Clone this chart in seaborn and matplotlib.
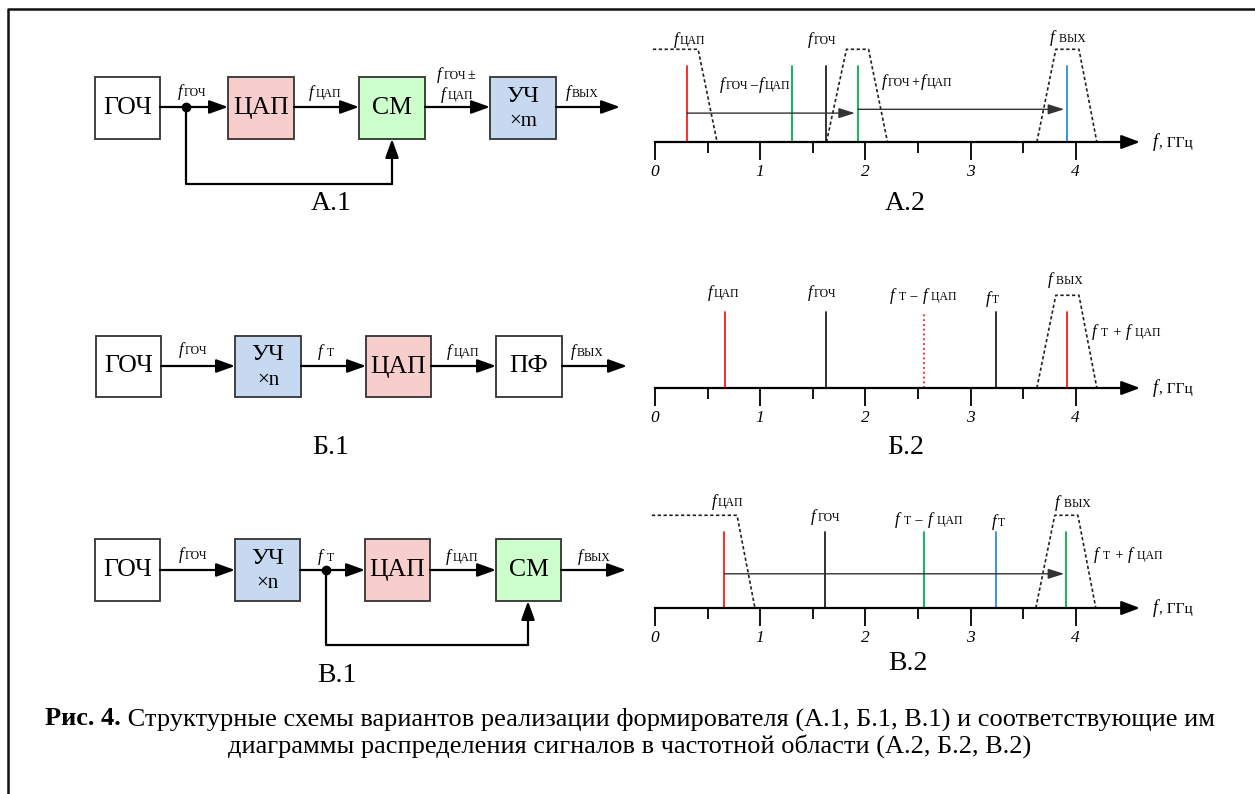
import matplotlib
matplotlib.use("Agg")
import matplotlib.pyplot as plt
import seaborn as sns
from matplotlib.patches import Rectangle, FancyArrowPatch
from matplotlib.offsetbox import TextArea, HPacker, AnnotationBbox

sns.set_style("white")
SERIF = ["Liberation Serif", "DejaVu Serif"]
plt.rcParams["font.family"] = SERIF
plt.rcParams["text.color"] = "black"
plt.rcParams["xtick.color"] = "black"
plt.rcParams["xtick.labelcolor"] = "black"

# ---- spectrum data (GHz) ----
ticks_major = [0, 1, 2, 3, 4]
ticks_minor = [0.5, 1.5, 2.5, 3.5]

a2_lines = [0.30, 1.30, 1.63, 1.93, 3.92]
a2_colors = ["#ff1a1a", "#00b050", "#222222", "#00b050", "#2e8bd8"]
a2_lpf = [-0.02, 0.41, 0.59]
a2_bpf1 = [1.63, 1.82, 2.03, 2.21]
a2_bpf2 = [3.63, 3.81, 4.03, 4.20]
a2_shifts = [(0.30, 1.90, 0.38), (1.93, 3.89, 0.43)]

b2_lines = [0.67, 1.63, 2.56, 3.24, 3.92]
b2_colors = ["#ff1a1a", "#222222", "#ff1a1a", "#222222", "#ff1a1a"]
b2_styles = ["-", "-", ":", "-", "-"]
b2_bpf = [3.63, 3.81, 4.03, 4.20]

v2_lines = [0.66, 1.62, 2.56, 3.24, 3.91]
v2_colors = ["#ff1a1a", "#222222", "#00b050", "#2e8bd8", "#00b050"]
v2_lpf = [-0.03, 0.78, 0.95]
v2_bpf = [3.62, 3.80, 4.02, 4.19]
v2_shifts = [(0.66, 3.89, 0.45)]

FILTER_H = 1.22

W, H = 1255, 794
F0, PPG, UNIT = 655, 105.2, 76   # pixel of 0 GHz, px per GHz, px per amplitude unit

fig = plt.figure(figsize=(W / 100, H / 100), dpi=100)
ax = fig.add_axes([0, 0, 1, 1])
ax.set_xlim(0, W)
ax.set_ylim(H, 0)
ax.axis("off")

# frame
ax.plot([8, 8, W], [H, 9, 9], color="#111111", lw=1.8)


def flabel(a, x, y, parts, fs=12, sub=8.5, ha=0.5):
    kids = []
    for p in parts:
        if p.startswith("f"):
            kids.append(TextArea("f", textprops=dict(size=fs, style="italic", family=SERIF, color="black")))
            if p[1:]:
                kids.append(TextArea(p[1:], textprops=dict(size=sub, family=SERIF, color="black")))
        else:
            kids.append(TextArea(p, textprops=dict(size=sub + 1.5, family=SERIF, color="black")))
    box = HPacker(children=kids, align="baseline", pad=0, sep=1)
    a.add_artist(AnnotationBbox(box, (x, y), frameon=False, box_alignment=(ha, 0.5),
                                pad=0, annotation_clip=False))


def arrow(p0, p1, ms=15, lw=1.6):
    ax.add_patch(FancyArrowPatch(p0, p1, arrowstyle="-|>,head_length=0.75,head_width=0.27",
                                 mutation_scale=ms, lw=lw, color="black",
                                 shrinkA=0, shrinkB=0, zorder=4))


def block(x0, x1, y0, y1, color, text, sub=None):
    ax.add_patch(Rectangle((x0, y0), x1 - x0, y1 - y0, fc=color, ec="#333333", lw=1.3, zorder=3))
    cx, cy = (x0 + x1) / 2, (y0 + y1) / 2
    if sub is None:
        ax.text(cx, cy, text, ha="center", va="center", size=18.5, zorder=5)
    else:
        ax.text(cx, cy - 12, text, ha="center", va="center", size=17.5, zorder=5)
        ax.text(cx, cy + 14, sub, ha="center", va="center", size=15, zorder=5)


WHITE, PINK, GREEN, BLUE = "white", "#f8cecc", "#ccffcc", "#c6d9f0"
PANEL = 20

# ---- A.1 ----
y0, y1, yl = 77, 139, 107
block(95, 160, y0, y1, WHITE, "ГОЧ")
block(228, 294, y0, y1, PINK, "ЦАП")
block(359, 425, y0, y1, GREEN, "СМ")
block(490, 556, y0, y1, BLUE, "УЧ", "×m")
arrow((160, yl), (228, yl))
arrow((294, yl), (359, yl))
arrow((425, yl), (490, yl))
arrow((556, yl), (620, yl))
ax.plot([186, 186, 392], [yl, 184, 184], color="black", lw=1.6)
arrow((392, 184), (392, y1))
ax.plot(186, yl, "o", ms=6, color="black", zorder=5)
flabel(ax, 192, 92, ["fГОЧ"])
flabel(ax, 325, 93, ["fЦАП"])
flabel(ax, 456, 75, ["fГОЧ", "±"])
flabel(ax, 457, 95, ["fЦАП"])
flabel(ax, 582, 93, ["fВЫХ"])
ax.text(331, 204, "А.1", ha="center", va="center", size=PANEL)

# ---- Б.1 ----
y0, y1, yl = 336, 397, 366
block(96, 161, y0, y1, WHITE, "ГОЧ")
block(235, 301, y0, y1, BLUE, "УЧ", "×n")
block(366, 431, y0, y1, PINK, "ЦАП")
block(496, 562, y0, y1, WHITE, "ПФ")
arrow((161, yl), (235, yl))
arrow((301, yl), (366, yl))
arrow((431, yl), (496, yl))
arrow((562, yl), (627, yl))
flabel(ax, 193, 350, ["fГОЧ"])
flabel(ax, 326, 352, ["f Т"])
flabel(ax, 463, 352, ["fЦАП"])
flabel(ax, 587, 352, ["fВЫХ"])
ax.text(331, 447, "Б.1", ha="center", va="center", size=PANEL)

# ---- В.1 ----
y0, y1, yl = 539, 601, 570
block(95, 160, y0, y1, WHITE, "ГОЧ")
block(235, 300, y0, y1, BLUE, "УЧ", "×n")
block(365, 430, y0, y1, PINK, "ЦАП")
block(496, 561, y0, y1, GREEN, "СМ")
arrow((160, yl), (235, yl))
arrow((300, yl), (365, yl))
arrow((430, yl), (496, yl))
arrow((561, yl), (626, yl))
ax.plot([326, 326, 528], [yl, 645, 645], color="black", lw=1.6)
arrow((528, 645), (528, y1))
ax.plot(326, yl, "o", ms=6, color="black", zorder=5)
flabel(ax, 193, 555, ["fГОЧ"])
flabel(ax, 326, 557, ["f Т"])
flabel(ax, 462, 557, ["fЦАП"])
flabel(ax, 594, 557, ["fВЫХ"])
ax.text(337, 676, "В.1", ha="center", va="center", size=PANEL)


# ---- spectra ----
def spectrum(base):
    top_px, bot_px = base - 117, base + 53
    x0_px, x1_px = 630, 1215
    a = fig.add_axes([x0_px / W, 1 - bot_px / H, (x1_px - x0_px) / W, (bot_px - top_px) / H])
    a.set_xlim((x0_px - F0) / PPG, (x1_px - F0) / PPG)
    a.set_ylim(-(bot_px - base) / UNIT, (base - top_px) / UNIT)
    a.patch.set_alpha(0)
    for s in ["top", "right", "left"]:
        a.spines[s].set_visible(False)
    a.spines["bottom"].set_position(("data", 0))
    a.spines["bottom"].set_bounds(0, 4.5)
    a.spines["bottom"].set_linewidth(1.6)
    a.spines["bottom"].set_color("black")
    a.set_yticks([])
    a.set_xticks(ticks_major)
    a.set_xticks(ticks_minor, minor=True)
    a.set_xticklabels([str(t) for t in ticks_major], style="italic", size=12.5)
    a.tick_params(axis="x", which="major", direction="out", length=13, width=1.3,
                  pad=3, bottom=True, color="black")
    a.tick_params(axis="x", which="minor", direction="out", length=8, width=1.3,
                  bottom=True, color="black")
    a.annotate("", xy=(4.61, 0), xytext=(4.45, 0),
               arrowprops=dict(arrowstyle="-|>,head_length=0.8,head_width=0.3",
                               mutation_scale=14, lw=1.6, color="black", shrinkA=0, shrinkB=0))
    flabel(a, 4.73, 0, ["f", ", ГГц"], fs=13, sub=9.5, ha=0)
    return a


def spectral_lines(a, freqs, colors, styles=None, lw=1.3):
    styles = styles or ["-"] * len(freqs)
    for f, c, s in zip(freqs, colors, styles):
        a.plot([f, f], [0, 1], color=c, ls=s, lw=lw)


def filt(a, fs):
    ys = [FILTER_H, FILTER_H, 0] if len(fs) == 3 else [0, FILTER_H, FILTER_H, 0]
    a.plot(fs, ys, color="#222222", ls=(0, (2, 1.5)), lw=1.2)


def shifts(a, items):
    for f0, f1, y in items:
        a.annotate("", xy=(f1, y), xytext=(f0, y),
                   arrowprops=dict(arrowstyle="-|>,head_length=0.7,head_width=0.22",
                                   mutation_scale=14, lw=1.0, color="#333333",
                                   shrinkA=0, shrinkB=0))


# A.2
a = spectrum(142)
filt(a, a2_lpf)
filt(a, a2_bpf1)
filt(a, a2_bpf2)
shifts(a, a2_shifts)
spectral_lines(a, a2_lines, a2_colors)
flabel(a, 0.33, 1.34, ["fЦАП"])
flabel(a, 1.59, 1.34, ["fГОЧ"])
flabel(a, 0.95, 0.75, ["fГОЧ", "–", "fЦАП"])
flabel(a, 2.49, 0.79, ["fГОЧ", "+", "fЦАП"])
flabel(a, 3.92, 1.37, ["f ВЫХ"])
ax.text(905, 203, "А.2", ha="center", va="center", size=PANEL)

# Б.2
a = spectrum(388)
filt(a, b2_bpf)
spectral_lines(a, b2_lines, b2_colors, b2_styles)
flabel(a, 0.65, 1.25, ["fЦАП"])
flabel(a, 1.59, 1.25, ["fГОЧ"])
flabel(a, 2.55, 1.21, ["f Т", " – ", "f ЦАП"])
flabel(a, 3.21, 1.17, ["fТ"])
flabel(a, 3.90, 1.42, ["f ВЫХ"])
flabel(a, 4.48, 0.74, ["f Т", " + ", "f ЦАП"])
ax.text(906, 448, "Б.2", ha="center", va="center", size=PANEL)

# В.2
a = spectrum(608)
filt(a, v2_lpf)
filt(a, v2_bpf)
shifts(a, v2_shifts)
spectral_lines(a, v2_lines, v2_colors)
flabel(a, 0.69, 1.39, ["fЦАП"])
flabel(a, 1.62, 1.20, ["fГОЧ"])
flabel(a, 2.60, 1.16, ["f Т", " – ", "f ЦАП"])
flabel(a, 3.26, 1.13, ["fТ"])
flabel(a, 3.97, 1.38, ["f ВЫХ"])
flabel(a, 4.50, 0.70, ["f Т", " + ", "f ЦАП"])
ax.text(908, 663, "В.2", ha="center", va="center", size=PANEL)

# ---- caption ----
CAP = 19
cap1 = HPacker(children=[
    TextArea("Рис. 4.", textprops=dict(size=CAP, weight="bold", family=SERIF, color="black")),
    TextArea(" Структурные схемы вариантов реализации формирователя (А.1, Б.1, В.1) и соответствующие им",
             textprops=dict(size=CAP, family=SERIF, color="black")),
], align="baseline", pad=0, sep=0)
ax.add_artist(AnnotationBbox(cap1, (630, 719), frameon=False, pad=0, box_alignment=(0.5, 0.5)))
ax.text(630, 746, "диаграммы распределения сигналов в частотной области (А.2, Б.2, В.2)",
        ha="center", va="center", size=CAP)

fig.savefig("out.png", dpi=100)
